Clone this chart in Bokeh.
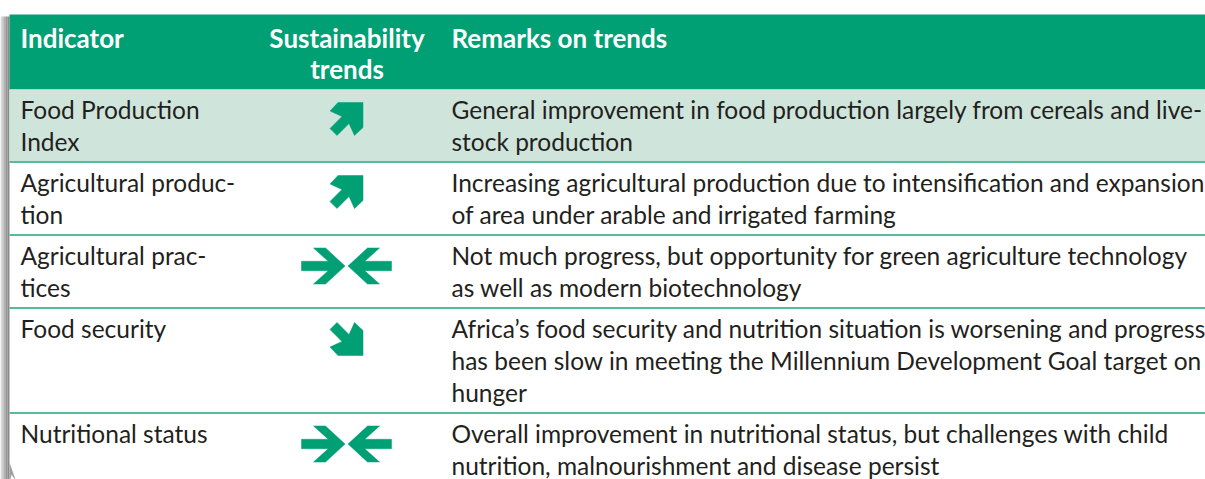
from bokeh.plotting import figure
from bokeh.models import Range1d, ColumnDataSource
from bokeh.core.properties import value
from bokeh.embed import file_html
from bokeh.resources import INLINE

# ---------------- data ----------------
headers = ["Indicator", "Sustainability\ntrends", "Remarks on trends"]
indicators = [
    ["Food Production", "Index"],
    ["Agricultural produc-", "tion"],
    ["Agricultural prac-", "tices"],
    ["Food security"],
    ["Nutritional status"],
]
trends = ["up", "up", "converging", "down", "converging"]
remarks = [
    ["General improvement in food production largely from cereals and live-",
     "stock production"],
    ["Increasing agricultural production due to intensification and expansion",
     "of area under arable and irrigated farming"],
    ["Not much progress, but opportunity for green agriculture technology",
     "as well as modern biotechnology"],
    ["Africa\u2019s food security and nutrition situation is worsening and progress",
     "has been slow in meeting the Millennium Development Goal target on",
     "hunger"],
    ["Overall improvement in nutritional status, but challenges with child",
     "nutrition, malnourishment and disease persist"],
]
shaded_rows = [True, False, False, False, False]

# ---------------- style / layout ----------------
GREEN = "#009F74"
LIGHT = "#CFE5DB"
SEP = "#55BB98"
TXT = "#231F20"
FONT = "Lato"
W, H = 1205, 479
X0 = 9            # card left edge
HEAD_TOP, HEAD_BOT = 14, 89
LINE_H = 32
COL_X = [20, 346, 451]
TEXT_DY = -9      # compensation of the renderer's baseline placement

p = figure(width=W, height=H, output_backend="svg", toolbar_location=None,
           x_range=Range1d(0, W), y_range=Range1d(H, 0),
           min_border=0, outline_line_color=None, background_fill_color="white",
           border_fill_color="white")
p.axis.visible = False
p.grid.visible = False

# soft shadow on the card's left side
shade = ["#D6D6D6", "#C2C2C2", "#ABABAB", "#959595", "#8A8A8A"]
for k, c in enumerate(shade):
    p.quad(left=[k * 1.8], right=[(k + 1) * 1.8], top=[HEAD_TOP + 2], bottom=[H],
           fill_color=c, line_color=None)
p.patch(x=[X0, X0, 10, 11, 13, 15, 15], y=[462, H, H, 474, 477, 479, 479],
        fill_color="#A0A0A0", line_color=None)

# header
p.quad(left=[X0], right=[W], top=[HEAD_TOP], bottom=[HEAD_BOT], fill_color=GREEN,
       line_color=None)

# rows
tops = []
t = HEAD_BOT
for ind, rem in zip(indicators, remarks):
    tops.append(t)
    t += LINE_H * max(len(ind), len(rem)) + 9
bots = tops[1:] + [t]

for i, (tp, bt) in enumerate(zip(tops, bots)):
    if shaded_rows[i]:
        p.quad(left=[X0], right=[W], top=[tp], bottom=[bt], fill_color=LIGHT,
               line_color=None)
for tp in tops[1:]:
    p.segment(x0=[X0], x1=[W], y0=[tp - 0.5], y1=[tp - 0.5], line_color=SEP,
              line_width=2)

# header text
hx, hy, ht, ha = [], [], [], []
for cx, htxt, al in zip(COL_X, headers, ["left", "center", "left"]):
    for k, ln in enumerate(htxt.split("\n")):
        hx.append(cx + (0.5 if al == "center" else 0))
        hy.append(46 + 31 * k + TEXT_DY)
        ht.append(ln); ha.append(al)
p.text(x="x", y="y", text="t", text_align="a",
       source=ColumnDataSource(dict(x=hx, y=hy, t=ht, a=ha)),
       text_font=value(FONT), text_font_style="bold", text_font_size="26px",
       text_color="white", text_baseline="alphabetic")

# body text
bx, by, bt_ = [], [], []
for tp, ind, rem in zip(tops, indicators, remarks):
    for k, ln in enumerate(ind):
        bx.append(COL_X[0]); by.append(tp + 29 + LINE_H * k + TEXT_DY); bt_.append(ln)
    for k, ln in enumerate(rem):
        bx.append(COL_X[2]); by.append(tp + 29 + LINE_H * k + TEXT_DY); bt_.append(ln)
p.text(x="x", y="y", text="t", source=ColumnDataSource(dict(x=bx, y=by, t=bt_)),
       text_font=value(FONT), text_font_size="24.5px", text_color=TXT,
       text_baseline="alphabetic", text_align="left")

# arrow shapes (local pixel offsets, y downward)
UP = [(9, 0), (34, 0), (34, 25), (25.5, 33), (20, 21), (8, 33), (1, 26),
      (13, 14), (1, 8.5)]
UP = [(x - 17.5, y - 16.5) for x, y in UP]
DOWN = [(x, -y) for x, y in UP]
SHAFT_L = [(-45, -4.7), (-12, -4.7), (-12, 4.7), (-45, 4.7)]
CHEV_L = [(-33, -18), (-21, -18), (-1.5, 0), (-21, 18), (-33, 18), (-13, 0)]
SHAFT_R = [(-x, y) for x, y in SHAFT_L]
CHEV_R = [(-x, y) for x, y in CHEV_L]
shapes = {"up": [UP], "down": [DOWN], "converging": [SHAFT_L, CHEV_L, SHAFT_R, CHEV_R]}

xs, ys = [], []
for tp, tr in zip(tops, trends):
    cy = tp + 29.5 + (1 if tr != "up" else 0)
    for poly in shapes[tr]:
        xs.append([COL_X[1] + px for px, _ in poly])
        ys.append([cy + py for _, py in poly])
p.patches(xs=xs, ys=ys, fill_color=GREEN, line_color=GREEN, line_width=0.5)

open("out.html", "w").write(file_html(p, INLINE))
